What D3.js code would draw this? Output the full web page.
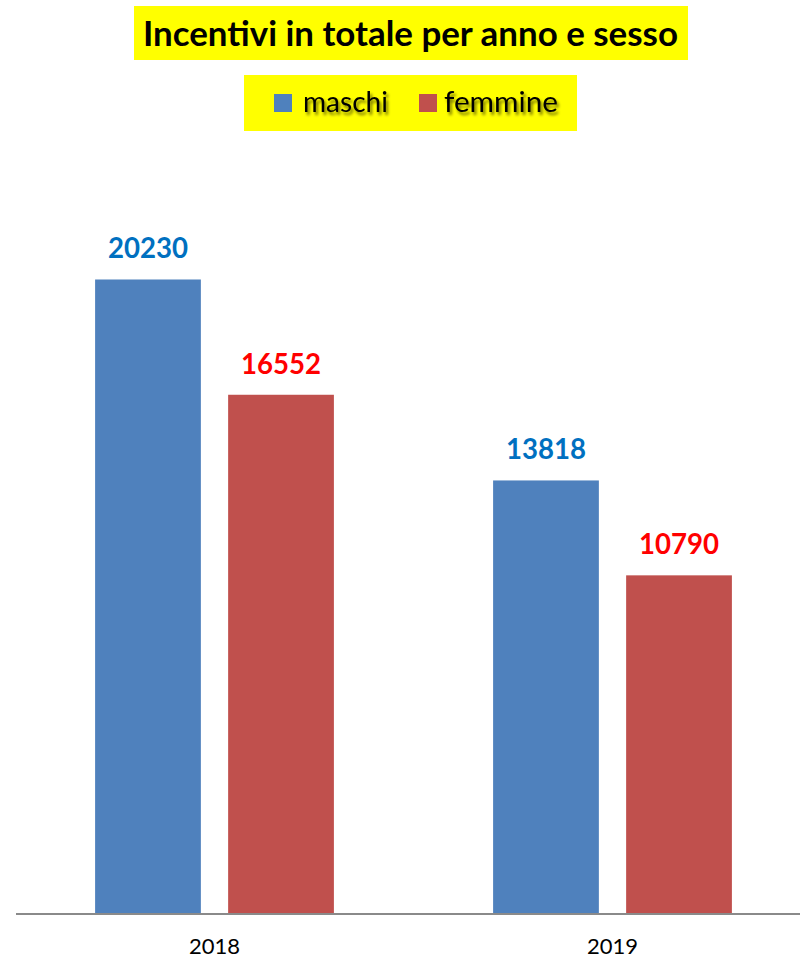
<!DOCTYPE html>
<html>
<head>
<meta charset="utf-8">
<script src="https://cdn.jsdelivr.net/npm/d3@7"></script>
<style>
  body { margin: 0; background: #fff; }
  svg { display: block; }
</style>
</head>
<body>
<svg id="chart"></svg>
<script>
// data
const years = ["2018", "2019"];
const groups = ["maschi", "femmine"];
const maschi = [20230, 13818];
const femmine = [16552, 10790];

const BAR_COLOR = { maschi: "#4F81BD", femmine: "#C0504D" };
const LABEL_COLOR = { maschi: "#0070C0", femmine: "#FF0000" };
const FONT = "Lato, Carlito, 'Open Sans', sans-serif";

const width = 800, height = 958;
const svg = d3.select("#chart").attr("width", width).attr("height", height);

// shrink/grow a text element so it spans the target width
function fitText(sel, target) {
  const size = +sel.attr("font-size");
  const len = sel.node().getComputedTextLength();
  sel.attr("font-size", size * target / len);
}

// ------------------------------------------------------------------
// scales
// ------------------------------------------------------------------
const x0 = d3.scaleBand().domain(years).range([15.5, 811.5])
  .paddingInner(0.4).paddingOuter(0.2);
const x1 = d3.scaleBand().domain(groups).range([0, x0.bandwidth()])
  .paddingInner(0.205);
const y = d3.scaleLinear().domain([0, 25000]).range([913.5, 130]);

const rows = years.map((yr, i) => ({
  year: yr,
  values: [
    { key: "maschi", value: maschi[i] },
    { key: "femmine", value: femmine[i] },
  ],
}));

// ------------------------------------------------------------------
// title + legend
// ------------------------------------------------------------------
const defs = svg.append("defs");
const shadow = defs.append("filter").attr("id", "shadow")
  .attr("x", "-20%").attr("y", "-40%").attr("width", "140%").attr("height", "180%");
shadow.append("feGaussianBlur").attr("in", "SourceAlpha").attr("stdDeviation", 1.6).attr("result", "b");
shadow.append("feOffset").attr("in", "b").attr("dx", 2).attr("dy", 3).attr("result", "o");
shadow.append("feComponentTransfer").attr("in", "o").attr("result", "s")
  .append("feFuncA").attr("type", "linear").attr("slope", 0.55);
const merge = shadow.append("feMerge");
merge.append("feMergeNode").attr("in", "s");
merge.append("feMergeNode").attr("in", "SourceGraphic");

svg.append("rect").attr("x", 134).attr("y", 6).attr("width", 554).attr("height", 54)
  .attr("fill", "#FFFF00");
const title = svg.append("text")
  .attr("x", 143).attr("y", 46)
  .attr("font-family", FONT).attr("font-weight", 700).attr("font-size", 34)
  .attr("fill", "#000")
  .text("Incentivi in totale per anno e sesso");
fitText(title, 535);

svg.append("rect").attr("x", 244).attr("y", 75).attr("width", 333).attr("height", 56)
  .attr("fill", "#FFFF00");
const legendPos = { maschi: { sq: 274, tx: 303, w: 85 }, femmine: { sq: 419, tx: 444, w: 114 } };
groups.forEach(g => {
  svg.append("rect").attr("x", legendPos[g].sq).attr("y", 94)
    .attr("width", 18).attr("height", 18).attr("fill", BAR_COLOR[g]);
  const t = svg.append("text")
    .attr("x", legendPos[g].tx).attr("y", 112)
    .attr("font-family", FONT).attr("font-size", 27)
    .attr("fill", "#000").attr("filter", "url(#shadow)")
    .text(g);
  fitText(t, legendPos[g].w);
});

// ------------------------------------------------------------------
// bars
// ------------------------------------------------------------------
const group = svg.append("g")
  .selectAll("g")
  .data(rows)
  .join("g")
  .attr("transform", d => `translate(${x0(d.year)},0)`);

group.selectAll("rect")
  .data(d => d.values)
  .join("rect")
  .attr("x", d => x1(d.key))
  .attr("y", d => y(d.value))
  .attr("width", x1.bandwidth())
  .attr("height", d => y(0) - y(d.value))
  .attr("fill", d => BAR_COLOR[d.key]);

group.selectAll("text")
  .data(d => d.values)
  .join("text")
  .attr("x", d => x1(d.key) + x1.bandwidth() / 2)
  .attr("y", d => y(d.value) - 21)
  .attr("text-anchor", "middle")
  .attr("font-family", FONT).attr("font-weight", 700).attr("font-size", 28)
  .attr("fill", d => LABEL_COLOR[d.key])
  .text(d => d.value)
  .each(function () { fitText(d3.select(this), 80); });

// ------------------------------------------------------------------
// x axis
// ------------------------------------------------------------------
const axis = svg.append("g")
  .attr("transform", `translate(0,${y(0)})`)
  .call(d3.axisBottom(x0).tickSize(0));
axis.select(".domain").attr("stroke", "#8A8A8A").attr("stroke-width", 2);
axis.selectAll("text")
  .attr("y", 40).attr("dy", 0)
  .attr("font-family", FONT).attr("font-size", 22)
  .attr("fill", "#000");
</script>
</body>
</html>
